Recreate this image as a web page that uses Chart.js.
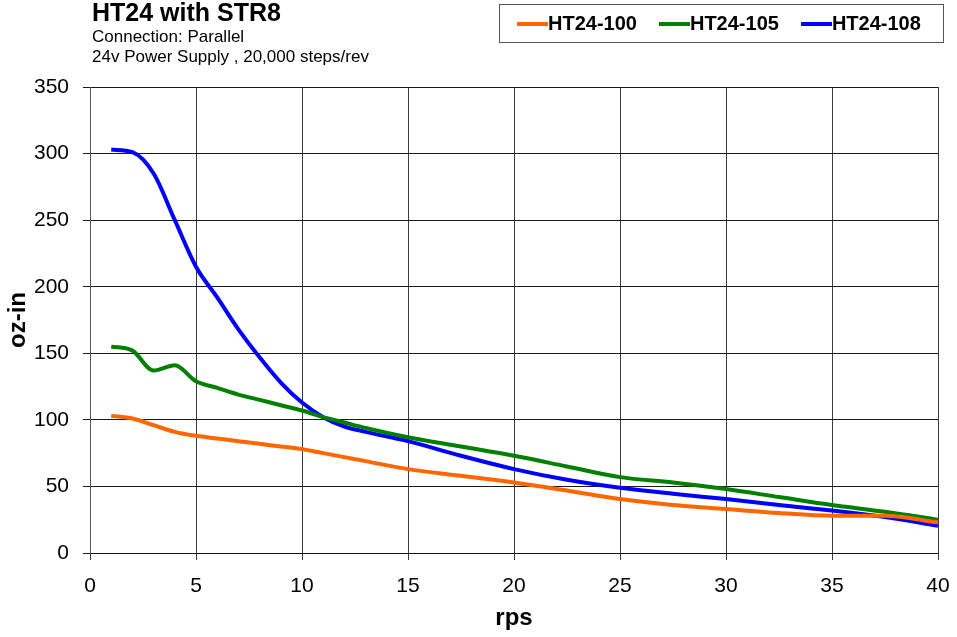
<!DOCTYPE html>
<html>
<head>
<meta charset="utf-8">
<title>HT24 with STR8</title>
<script src="https://cdn.jsdelivr.net/npm/chart.js@4.4.1/dist/chart.umd.min.js"></script>
<style>
    html, body { margin: 0; padding: 0; background: #fff; }
    body { width: 957px; height: 637px; position: relative; overflow: hidden;
           font-family: Arial, "Liberation Sans", sans-serif; }
    #wrap { position: absolute; left: 0; top: 0; width: 957px; height: 637px; }
    .hdr { position: absolute; left: 92px; color: #000; white-space: nowrap; line-height: 1; }
    .hdr-title { top: 0px; font-size: 25px; font-weight: bold; }
    .hdr-sub { font-size: 17px; }
    #legend { position: absolute; left: 499px; top: 4px; width: 445px; height: 39px;
              border: 1px solid #555; box-sizing: border-box; display: flex;
              align-items: center; padding-left: 17px; gap: 22px;
              font-size: 20px; font-weight: bold; color: #000; }
    .leg-item { display: flex; align-items: center; }
    .leg-line { width: 31px; height: 4px; }
</style>
</head>
<body>
<div id="wrap"><canvas id="torqueChart" width="957" height="637"></canvas></div>
<div class="hdr hdr-title">HT24 with STR8</div>
<div class="hdr hdr-sub" style="top:28px">Connection: Parallel</div>
<div class="hdr hdr-sub" style="top:48px">24v Power Supply , 20,000 steps/rev</div>
<div id="legend"></div>

<script>
/*==============================================================
    DATA
==============================================================*/
const rps = [1, 2, 3, 4, 5, 6, 7, 8, 9, 10, 11, 12, 13, 15, 17.5, 20,
             22.5, 25, 27.5, 30, 32.5, 35, 37.5, 40];
const ht24_100 = [103, 101, 96, 91, 88, 86, 84, 82, 80, 78, 75, 72, 69, 63, 58, 53,
                  47, 40.5, 36, 33, 30, 28, 28, 23];
const ht24_105 = [155, 152, 137, 141, 129, 124, 119, 115, 111, 107, 102, 98, 94, 87, 80, 73,
                  65, 57, 53, 48, 42, 36, 31, 25];
const ht24_108 = [303, 301, 285, 250, 215, 192, 168, 147, 128, 113, 102, 95, 91, 84, 73, 63,
                  55, 49, 44.5, 40.5, 36, 32, 27, 20.5];
const seriesNames = ["HT24-100", "HT24-105", "HT24-108"];
const seriesColors = ["#FF6600", "#008000", "#0000FF"];
const xTicks = [0, 5, 10, 15, 20, 25, 30, 35, 40];
const yTicks = [0, 50, 100, 150, 200, 250, 300, 350];

/*==============================================================
    HELPERS
==============================================================*/
function toPoints(values) {
    return rps.map(function (r, i) { return { x: r, y: values[i] }; });
}

function buildLegend() {
    const box = document.getElementById("legend");
    seriesNames.forEach(function (name, i) {
        const item = document.createElement("div");
        item.className = "leg-item";
        const ln = document.createElement("span");
        ln.className = "leg-line";
        ln.style.background = seriesColors[i];
        const tx = document.createElement("span");
        tx.textContent = name;
        item.appendChild(ln);
        item.appendChild(tx);
        box.appendChild(item);
    });
}

/*==============================================================
    CHART
==============================================================*/
function torqueChart() {
    const ctx = document.getElementById("torqueChart");
    const family = "Arial, 'Liberation Sans', sans-serif";
    const tickFont = { family: family, size: 21 };
    const titleFont = { family: family, size: 24, weight: "bold" };
    const values = [ht24_100, ht24_105, ht24_108];

    new Chart(ctx, {
        type: "line",
        data: {
            datasets: values.map(function (v, i) {
                return {
                    label: seriesNames[i],
                    data: toPoints(v),
                    borderColor: seriesColors[i],
                    backgroundColor: seriesColors[i],
                    borderWidth: 4,
                    pointRadius: 0,
                    fill: false,
                    cubicInterpolationMode: "monotone"
                };
            })
        },
        options: {
            responsive: false,
            animation: false,
            layout: { padding: { top: 87, right: 19, bottom: 0, left: 4 } },
            plugins: {
                legend: { display: false },
                tooltip: { enabled: false }
            },
            scales: {
                x: {
                    type: "linear",
                    min: 0,
                    max: 40,
                    afterBuildTicks: function (s) { s.ticks = xTicks.map(function (v) { return { value: v }; }); },
                    afterFit: function (s) {
                        s.height = 84;
                        s.paddingLeft = 0;
                        s.paddingRight = 0;
                    },
                    ticks: { color: "#000", font: tickFont, padding: 14, maxRotation: 0 },
                    grid: { color: "#3a3a3a", lineWidth: 1, tickLength: 7 },
                    border: { color: "#111", width: 1 },
                    title: {
                        display: true,
                        text: "rps",
                        color: "#000",
                        font: titleFont,
                        padding: { top: 0, bottom: 4 }
                    }
                },
                y: {
                    min: 0,
                    max: 350,
                    afterBuildTicks: function (s) { s.ticks = yTicks.map(function (v) { return { value: v }; }); },
                    afterFit: function (s) { s.width = 86; },
                    ticks: { color: "#000", font: tickFont, padding: 14 },
                    grid: { color: "#1a1a1a", lineWidth: 1, tickLength: 7 },
                    border: { color: "#555", width: 1 },
                    title: {
                        display: true,
                        text: "oz-in",
                        color: "#000",
                        font: titleFont,
                        padding: { top: 0, bottom: 0 }
                    }
                }
            }
        }
    });
}

buildLegend();
torqueChart();
</script>
</body>
</html>
